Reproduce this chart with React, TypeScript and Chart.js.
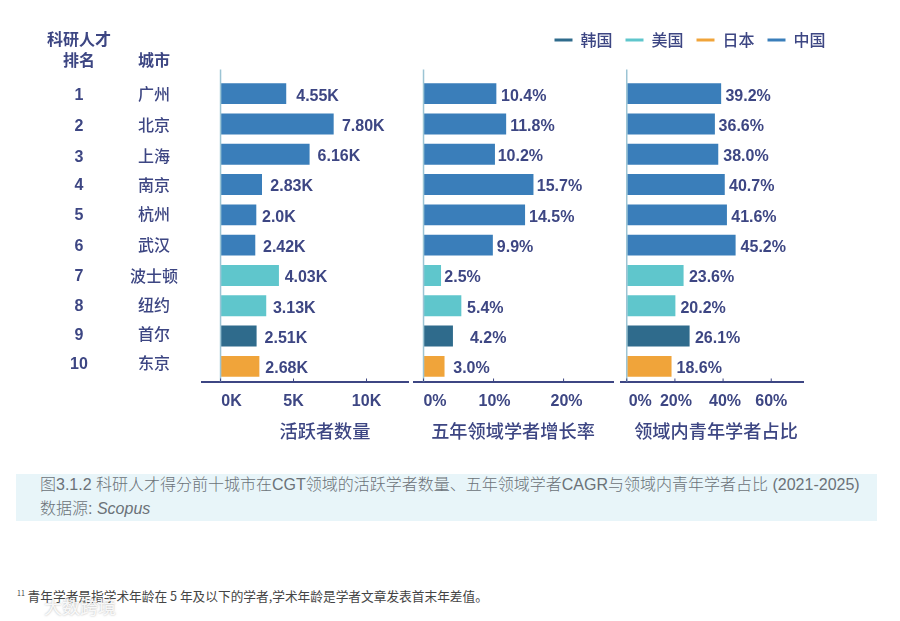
import { useEffect, useRef } from "react";
import { Chart, registerables } from "chart.js";

Chart.register(...registerables);

const ranks = ["1", "2", "3", "4", "5", "6", "7", "8", "9", "10"];
const cities = ["广州", "北京", "上海", "南京", "杭州", "武汉", "波士顿", "纽约", "首尔", "东京"];
const cityRegions = ["中国", "中国", "中国", "中国", "中国", "中国", "美国", "美国", "韩国", "日本"];

// bar lengths as drawn; 杭州's bar is longer than its printed 2.0K
const activeScholars = [4.5, 7.75, 6.1, 2.84, 2.45, 2.38, 4.0, 3.13, 2.47, 2.66];
const activeLabels = ["4.55K", "7.80K", "6.16K", "2.83K", "2.0K", "2.42K", "4.03K", "3.13K", "2.51K", "2.68K"];
const growthRate = [10.4, 11.8, 10.2, 15.7, 14.5, 9.9, 2.5, 5.4, 4.2, 3.0];
const youngShare = [39.2, 36.6, 38.0, 40.7, 41.6, 45.2, 23.6, 20.2, 26.1, 18.6];

const activeTicks = [0, 5, 10];
const growthTicks = [0, 10, 20];
const youngTicks = [0, 20, 40, 60];

const legendRegions = ["韩国", "美国", "日本", "中国"];

const regionColors: Record<string, string> = {
  韩国: "#2f6b8c",
  美国: "#5fc6cc",
  日本: "#f0a43a",
  中国: "#3a7eba",
};

const TEXT = "#3d4683";
const LATIN = "'Liberation Sans', 'Noto Sans CJK SC', sans-serif";
const CJK = "'Noto Sans CJK SC', sans-serif";

// the rank and city columns sit slightly off the bar rows in the reference
const rowDrift = [0, 1, 2, 0, -1, 0, 0, -1, -2, -3];

// draws axis extras that Chart.js can't place: raised tick marks, shifted tick labels,
// the zero line running above the plot, value labels and the panel title
const panelExtras = {
  id: "panelExtras",
  afterDatasetsDraw(chart: any, _args: any, opts: any) {
    const { ctx, chartArea, scales } = chart;
    const x = scales.x;
    const y = scales.y;
    ctx.save();

    ctx.strokeStyle = "#9cc4d4";
    ctx.lineWidth = 1.5;
    ctx.beginPath();
    ctx.moveTo(x.getPixelForValue(0), chartArea.top - 9);
    ctx.lineTo(x.getPixelForValue(0), chartArea.bottom);
    ctx.stroke();

    ctx.strokeStyle = TEXT;
    ctx.lineWidth = 1;
    ctx.fillStyle = TEXT;
    ctx.textBaseline = "middle";
    ctx.textAlign = "center";
    ctx.font = `bold 16px ${LATIN}`;
    x.ticks.forEach((tick: any, i: number) => {
      const px = x.getPixelForValue(tick.value);
      ctx.beginPath();
      ctx.moveTo(px, chartArea.bottom);
      ctx.lineTo(px, chartArea.bottom - 3);
      ctx.stroke();
      ctx.fillText(tick.label, px + opts.tickShift[i], chartArea.bottom + 20);
    });

    ctx.textAlign = "left";
    opts.values.forEach((v: number, i: number) => {
      ctx.fillText(opts.labels[i], x.getPixelForValue(v) + opts.gaps[i], y.getPixelForValue(i) + 2.5);
    });

    ctx.textAlign = "center";
    ctx.font = `500 18.2px ${CJK}`;
    ctx.fillText(opts.title, opts.titleX, chartArea.bottom + 50);

    if (opts.showRows) {
      ctx.font = `bold 16px ${LATIN}`;
      ranks.forEach((r, i) => ctx.fillText(r, 79, y.getPixelForValue(i) + rowDrift[i] + 1.5));
      ctx.font = `500 16px ${CJK}`;
      cities.forEach((c, i) => ctx.fillText(c, 154, y.getPixelForValue(i) + rowDrift[i]));
      ctx.font = `bold 16px ${CJK}`;
      ctx.fillText("科研人才", 79, 39);
      ctx.fillText("排名", 79, 60);
      ctx.fillText("城市", 154, 60);
    }
    ctx.restore();
  },
};

function makePanel(canvas: HTMLCanvasElement, p: any) {
  return new Chart(canvas, {
    type: "bar",
    data: {
      labels: cities,
      datasets: [
        {
          data: p.values,
          backgroundColor: cityRegions.map((r) => regionColors[r]),
          categoryPercentage: 1,
          barPercentage: 0.69,
        },
      ],
    },
    plugins: [panelExtras],
    options: {
      indexAxis: "y",
      responsive: false,
      animation: false,
      layout: { padding: { top: 78.5, bottom: 78.5, left: 0, right: 0 } },
      plugins: {
        legend: { display: false },
        tooltip: { enabled: false },
        panelExtras: {
          values: p.values,
          labels: p.labels,
          gaps: p.gaps,
          tickShift: p.tickShift,
          title: p.title,
          titleX: p.titleX,
          showRows: p.showRows,
        },
      } as any,
      scales: {
        x: {
          type: "linear",
          min: p.min,
          max: p.max,
          afterBuildTicks: (scale: any) => {
            scale.ticks = p.ticks.map((v: number) => ({ value: v }));
          },
          ticks: { display: false, callback: (v: any) => v + p.unit },
          grid: { drawOnChartArea: false, drawTicks: false },
          border: { display: true, color: TEXT, width: 2 },
        },
        y: {
          type: "category",
          afterFit: (scale: any) => {
            scale.width = p.axisWidth;
          },
          grid: { display: false },
          border: { display: false },
          ticks: { display: false, autoSkip: false },
        },
      },
    },
  } as any);
}

export default function App() {
  const activeRef = useRef<HTMLCanvasElement>(null);
  const growthRef = useRef<HTMLCanvasElement>(null);
  const youngRef = useRef<HTMLCanvasElement>(null);
  const legendRef = useRef<HTMLCanvasElement>(null);

  useEffect(() => {
    if (!activeRef.current || !growthRef.current || !youngRef.current || !legendRef.current) return;

    const charts = [
      makePanel(activeRef.current, {
        values: activeScholars,
        labels: activeLabels,
        gaps: [10, 8.3, 8, 8.3, 5.7, 7.7, 5.7, 6.7, 8, 6],
        ticks: activeTicks,
        tickShift: [11, 0, 0],
        unit: "K",
        min: -1.27,
        max: 12.91,
        axisWidth: 202,
        showRows: true,
        title: "活跃者数量",
        titleX: 325,
      }),
      makePanel(growthRef.current, {
        values: growthRate,
        labels: growthRate.map((v) => v.toFixed(1) + "%"),
        gaps: [4.7, 4, 2.7, 3.3, 4, 4, 3.3, 5.7, 17, 8.7],
        ticks: growthTicks,
        tickShift: [11.5, 1, 3],
        unit: "%",
        min: -1.36,
        max: 27.2,
        axisWidth: 4,
        showRows: false,
        title: "五年领域学者增长率",
        titleX: 103,
      }),
      makePanel(youngRef.current, {
        values: youngShare,
        labels: youngShare.map((v) => v.toFixed(1) + "%"),
        gaps: [4.3, 3.7, 5, 4.3, 4.3, 5, 5.3, 5, 5.3, 5],
        ticks: youngTicks,
        tickShift: [13.5, 1, 2, 0],
        unit: "%",
        min: -2.8,
        max: 73.6,
        axisWidth: 0,
        showRows: false,
        title: "领域内青年学者占比",
        titleX: 96,
      }),
      new Chart(legendRef.current, {
        type: "bar",
        data: {
          labels: [],
          datasets: legendRegions.map((r) => ({ label: r, data: [], backgroundColor: regionColors[r] })),
        },
        options: {
          responsive: false,
          animation: false,
          scales: { x: { display: false }, y: { display: false } },
          plugins: {
            tooltip: { enabled: false },
            legend: {
              position: "top",
              labels: {
                usePointStyle: true,
                pointStyle: "line",
                pointStyleWidth: 18,
                padding: 13,
                color: TEXT,
                font: { family: CJK, size: 16, weight: 500 },
                generateLabels: () =>
                  legendRegions.map((r, i) => ({
                    text: r,
                    datasetIndex: i,
                    fillStyle: regionColors[r],
                    strokeStyle: regionColors[r],
                    lineWidth: 3,
                    pointStyle: "line",
                    fontColor: TEXT,
                    hidden: false,
                  })),
              },
            },
          },
        },
      } as any),
    ];

    return () => {
      charts.forEach((c) => c.destroy());
    };
  }, []);

  const layer = { position: "absolute", top: 0 } as const;

  return (
    <div style={{ position: "absolute", left: 0, top: 0, width: 900, height: 621, overflow: "hidden", background: "#fff" }}>
      <canvas ref={activeRef} width={409} height={460} style={{ ...layer, left: 0 }} />
      <canvas ref={growthRef} width={204} height={460} style={{ ...layer, left: 410 }} />
      <canvas ref={youngRef} width={184} height={460} style={{ ...layer, left: 620 }} />
      <canvas ref={legendRef} width={298} height={100} style={{ ...layer, left: 541, top: 19 }} />
      <div
        style={{
          position: "absolute",
          left: 16,
          top: 474,
          width: 861,
          height: 47,
          background: "#e8f5f9",
        }}
      />
      <div
        style={{
          position: "absolute",
          left: 40,
          top: 473,
          color: "#6b7278",
          fontFamily: LATIN,
          fontSize: 16,
          lineHeight: "24px",
          whiteSpace: "nowrap",
          fontWeight: 300,
        }}
      >
        <div>图3.1.2 科研人才得分前十城市在CGT领域的活跃学者数量、五年领域学者CAGR与领域内青年学者占比 (2021-2025)</div>
        <div>
          数据源: <i>Scopus</i>
        </div>
      </div>
      <div
        style={{
          position: "absolute",
          left: 17,
          top: 588,
          color: "#444",
          fontFamily: CJK,
          fontSize: 12.7,
          lineHeight: "16px",
          whiteSpace: "nowrap",
        }}
      >
        <sup style={{ fontSize: 7, lineHeight: 0 }}>11</sup> 青年学者是指学术年龄在 5 年及以下的学者,学术年龄是学者文章发表首末年差值。
      </div>
      <div
        style={{
          position: "absolute",
          left: 44,
          top: 593,
          color: "rgba(255,255,255,0.9)",
          textShadow: "0 0 2px rgba(120,120,120,0.6)",
          fontFamily: CJK,
          fontSize: 18,
          whiteSpace: "nowrap",
        }}
      >
        大数跨境
      </div>
    </div>
  );
}
